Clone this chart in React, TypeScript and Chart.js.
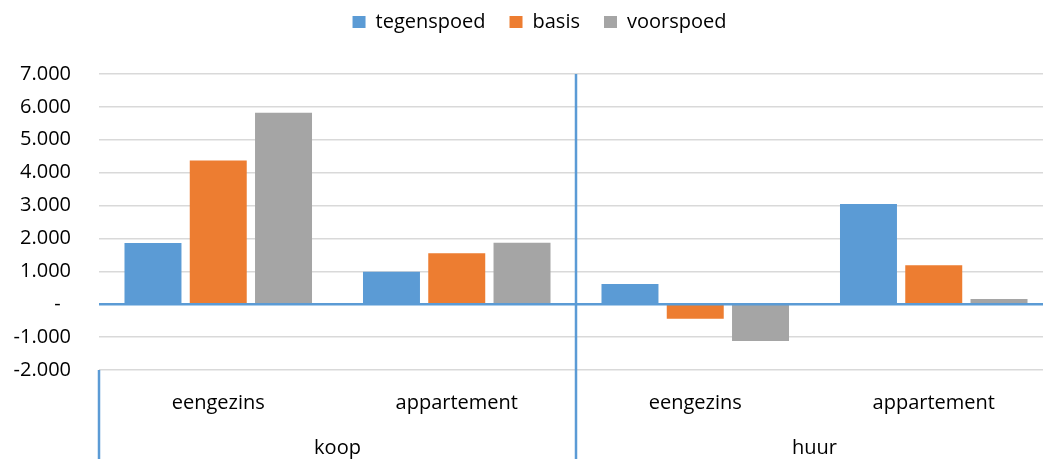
import React, { useEffect, useRef } from 'react';
import { Chart, registerables } from 'chart.js';

Chart.register(...registerables);

const categories = ['eengezins', 'appartement', 'eengezins', 'appartement'];
const groups = ['koop', 'huur'];
const seriesNames = ['tegenspoed', 'basis', 'voorspoed'];
const tegenspoed = [1860, 988, 614, 3047];
const basis = [4370, 1548, -441, 1183];
const voorspoed = [5820, 1870, -1119, 158];
const yMin = -2000;
const yMax = 7000;
const yStep = 1000;

const colors = ['#5B9BD5', '#ED7D31', '#A5A5A5'];
const axisBlue = '#5B9BD5';
const FONT = "'Open Sans', sans-serif";
const FS = 20;
const TEXT = '#000000';

function fmt(v: number): string {
  if (v === 0) return '-  ';
  const s = Math.abs(v).toString().replace(/\B(?=(\d{3})+(?!\d))/g, '.');
  return (v < 0 ? '-' : '') + s;
}

const linesPlugin = {
  id: 'excelLines',
  beforeLayout(chart: any) {
    const lg = chart.legend;
    if (lg && !lg._patched) {
      const orig = lg.fit;
      lg.fit = function () {
        orig.call(this);
        this.height = 86;
      };
      lg._patched = true;
    }
  },
  afterDatasetsDraw(chart: any) {
    const { ctx, chartArea, scales } = chart;
    const y0 = scales.y.getPixelForValue(0);
    const xs = scales.x;
    const H = chart.height;
    ctx.save();
    ctx.strokeStyle = axisBlue;
    ctx.lineWidth = 2.5;
    ctx.beginPath();
    ctx.moveTo(chartArea.left, y0);
    ctx.lineTo(chartArea.right, y0);
    ctx.stroke();
    const mid = (xs.getPixelForValue(1) + xs.getPixelForValue(2)) / 2;
    ctx.lineWidth = 2.5;
    ctx.beginPath();
    ctx.moveTo(mid, chartArea.top);
    ctx.lineTo(mid, H);
    ctx.moveTo(chartArea.left, chartArea.bottom);
    ctx.lineTo(chartArea.left, H);
    ctx.moveTo(chartArea.right, chartArea.bottom);
    ctx.lineTo(chartArea.right, H);
    ctx.stroke();
    ctx.restore();
  },
};

export default function App() {
  const ref = useRef<HTMLCanvasElement | null>(null);
  useEffect(() => {
    if (!ref.current) return;
    const chart = new Chart(ref.current, {
      type: 'bar',
      data: {
        labels: categories,
        datasets: [tegenspoed, basis, voorspoed].map((d, i) => ({
          label: seriesNames[i],
          data: d,
          backgroundColor: colors[i],
          borderWidth: 0,
          xAxisID: 'x',
          yAxisID: 'y',
          categoryPercentage: 0.821,
          barPercentage: 0.873,
        })),
      },
      options: {
        responsive: false,
        animation: false,
        layout: { padding: { top: -12, left: 0, right: 0, bottom: 0 } },
        plugins: {
          legend: {
            position: 'top',
            labels: {
              boxWidth: 13,
              boxHeight: 12,
              padding: 24,
              color: TEXT,
              font: { family: FONT, size: FS },
            },
          },
          tooltip: { enabled: false },
        },
        scales: {
          x: {
            type: 'category',
            position: 'bottom',
            weight: 0,
            grid: { display: false },
            border: { display: false },
            ticks: { padding: 13, color: TEXT, font: { family: FONT, size: FS }, maxRotation: 0 },
            afterFit: (s: any) => {
              s.height = 55;
            },
          },
          x2: {
            type: 'category',
            labels: groups,
            position: 'bottom',
            weight: 1,
            offset: true,
            grid: { display: false },
            border: { display: false },
            ticks: { padding: 3, color: TEXT, font: { family: FONT, size: FS }, maxRotation: 0 },
            afterFit: (s: any) => {
              s.height = 34;
            },
          },
          y: {
            type: 'linear',
            position: 'left',
            min: yMin,
            max: yMax,
            grid: { color: '#D9D9D9', lineWidth: 1.5, drawTicks: false },
            border: { display: false },
            ticks: {
              stepSize: yStep,
              padding: 28,
              color: TEXT,
              font: { family: FONT, size: FS },
              callback: (v: any) => fmt(Number(v)),
            },
            afterFit: (s: any) => {
              s.width = 99;
            },
          },
          yR: {
            type: 'linear',
            position: 'right',
            display: true,
            grid: { display: false },
            border: { display: false },
            ticks: { display: false },
            afterFit: (s: any) => {
              s.width = 26;
            },
          },
        },
      },
      plugins: [linesPlugin],
    } as any);
    return () => chart.destroy();
  }, []);
  return (
    <div style={{ position: 'fixed', left: 0, top: 0, width: 1043, height: 459, overflow: 'hidden', background: '#fff' }}>
      <canvas ref={ref} width={1079} height={459} style={{ width: 1079, height: 459, display: 'block' }} />
    </div>
  );
}
